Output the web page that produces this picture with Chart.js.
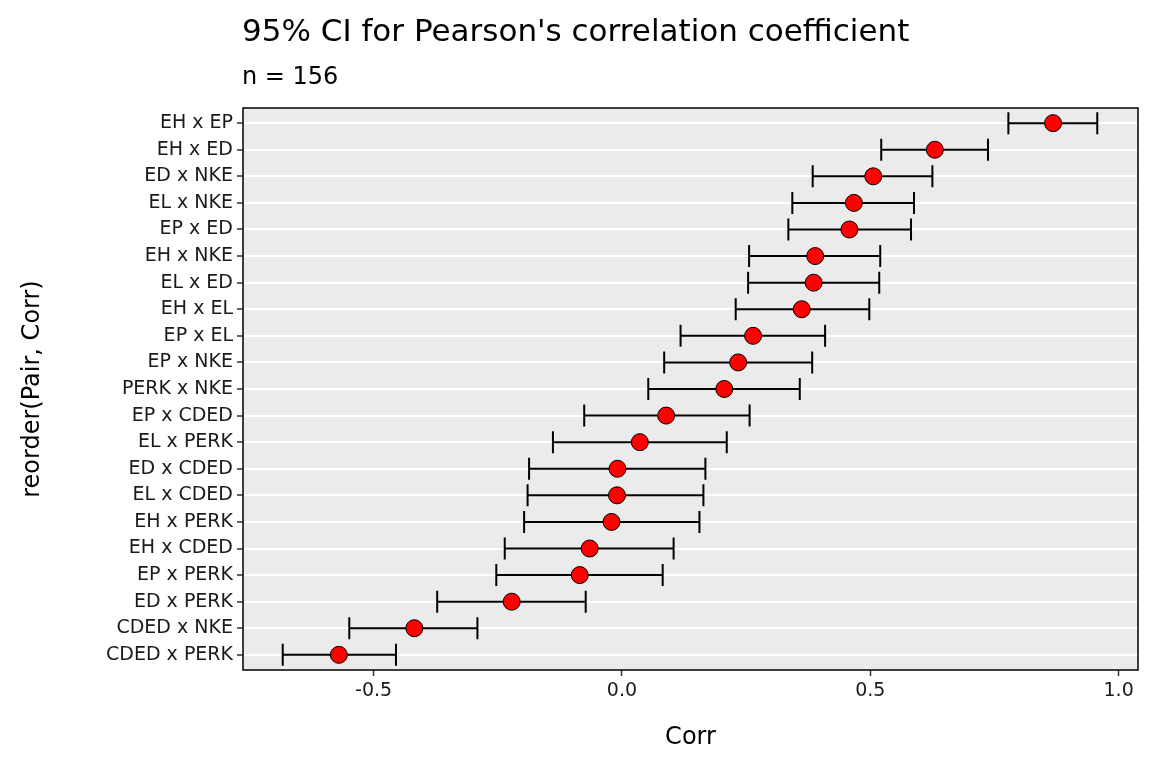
<!DOCTYPE html>
<html><head><meta charset="utf-8">
<script src="https://cdn.jsdelivr.net/npm/chart.js@4"></script>
<style>
body{margin:0;background:#fff;font-family:"DejaVu Sans",Arial,sans-serif}
#wrap{position:relative;width:1152px;height:768px}
#t{position:absolute;left:242px;top:12px;font-size:31px;color:#000}
#s{position:absolute;left:242px;top:62px;font-size:24px;color:#000}
</style></head><body>
<div id="wrap"><div id="t">95% CI for Pearson's correlation coefficient</div><div id="s">n = 156</div>
<canvas id="c" width="1152" height="768"></canvas></div>
<script>
const pairs=["EH x EP","EH x ED","ED x NKE","EL x NKE","EP x ED","EH x NKE","EL x ED","EH x EL","EP x EL","EP x NKE","PERK x NKE","EP x CDED","EL x PERK","ED x CDED","EL x CDED","EH x PERK","EH x CDED","EP x PERK","ED x PERK","CDED x NKE","CDED x PERK"];
const corr=[0.868,0.630,0.506,0.467,0.458,0.389,0.386,0.362,0.264,0.234,0.206,0.089,0.036,-0.009,-0.010,-0.021,-0.065,-0.085,-0.222,-0.418,-0.570];
const lower=[0.778,0.522,0.384,0.343,0.335,0.256,0.254,0.229,0.118,0.085,0.053,-0.076,-0.139,-0.187,-0.190,-0.197,-0.236,-0.253,-0.372,-0.549,-0.683];
const upper=[0.957,0.737,0.625,0.588,0.582,0.520,0.518,0.498,0.409,0.383,0.358,0.257,0.211,0.168,0.164,0.156,0.104,0.082,-0.073,-0.291,-0.455];
const xTicks=[-0.5,0,0.5,1.0];
const pts=corr.map((v,i)=>({x:v,y:i+1}));
const ff="'DejaVu Sans', Arial, sans-serif";
const font={family:ff,size:19};
const deco={id:'deco',
 beforeDraw(ch){const a=ch.chartArea,c=ch.ctx;c.save();c.fillStyle='#ebebeb';c.fillRect(a.left,a.top,a.right-a.left,a.bottom-a.top);c.restore();},
 beforeDatasetsDraw(ch){const c=ch.ctx,xs=ch.scales.x,ys=ch.scales.y;c.save();c.strokeStyle='#000';c.lineWidth=2;
  for(let i=0;i<corr.length;i++){const y=ys.getPixelForValue(i+1),l=xs.getPixelForValue(lower[i]),h=xs.getPixelForValue(upper[i]);
   c.beginPath();c.moveTo(l,y);c.lineTo(h,y);c.moveTo(l,y-11);c.lineTo(l,y+11);c.moveTo(h,y-11);c.lineTo(h,y+11);c.stroke();}
  c.restore();},
 afterDraw(ch){const a=ch.chartArea,c=ch.ctx;c.save();c.strokeStyle='#000';c.lineWidth=1.5;c.strokeRect(a.left,a.top,a.right-a.left,a.bottom-a.top);c.restore();}
};
new Chart(document.getElementById('c'),{type:'scatter',
 data:{datasets:[{data:pts,pointRadius:8.5,pointHoverRadius:8.5,backgroundColor:'#ff0000',borderColor:'#000',borderWidth:1}]},
 options:{responsive:false,animation:false,events:[],
  layout:{padding:{top:108,right:14,left:0,bottom:0}},
  plugins:{legend:{display:false},tooltip:{enabled:false}},
  scales:{
   x:{type:'linear',min:-0.763,max:1.039,afterBuildTicks:s=>{s.ticks=xTicks.map(v=>({value:v}));},
    afterFit:s=>{s.height=98;},
    ticks:{font,color:'#1a1a1a',padding:4,callback:v=>v.toFixed(1)},
    grid:{drawOnChartArea:false,drawTicks:true,tickLength:6,tickColor:'#333',tickWidth:1.5},
    border:{display:false},
    title:{display:true,text:'Corr',font:{family:ff,size:24},color:'#000',padding:{top:6,bottom:16}}},
   y:{type:'linear',reverse:true,min:0.43,max:21.57,afterBuildTicks:s=>{s.ticks=pairs.map((p,i)=>({value:i+1}));},
    afterFit:s=>{s.width=243;},
    ticks:{font,color:'#1a1a1a',padding:4,autoSkip:false,callback:v=>pairs[v-1]},
    grid:{color:'#ffffff',lineWidth:2,drawTicks:true,tickLength:6,tickColor:'#333',tickWidth:1.5},
    border:{display:false},
    title:{display:true,text:'reorder(Pair, Corr)',font:{family:ff,size:24},color:'#000',padding:{top:18,bottom:6}}}
  }},
 plugins:[deco]});
</script></body></html>
